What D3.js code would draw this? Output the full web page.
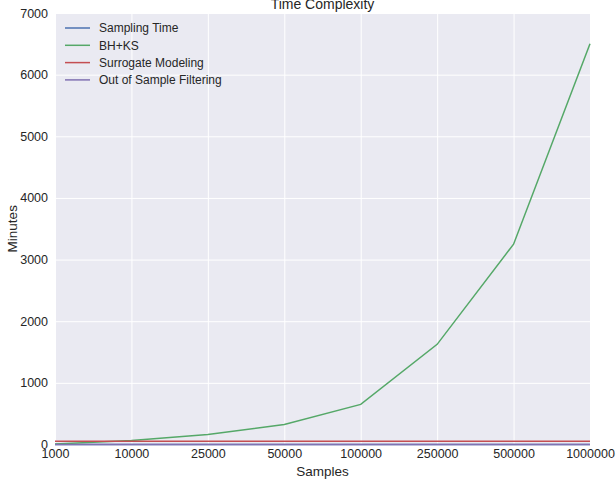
<!DOCTYPE html>
<html><head><meta charset="utf-8">
<script src="https://cdn.jsdelivr.net/npm/d3@7"></script>
<style>body{margin:0;background:#fff}svg{display:block;font-family:"Liberation Sans",Arial,sans-serif}</style>
</head><body>
<svg id="c" width="616" height="480"></svg>
<script>
const categories = ["1000","10000","25000","50000","100000","250000","500000","1000000"];
const samplingTime = [0,0,0,0,0,0,0,0];
const bhks = [6.5,65,162.5,325,650,1625,3250,6500];
const surrogateModeling = [52,52,52,52,52,52,52,52];
const outOfSampleFiltering = [2,2,2,2,2,2,2,2];
const yTicks = [0,1000,2000,3000,4000,5000,6000,7000];
const seriesNames = ["Sampling Time","BH+KS","Surrogate Modeling","Out of Sample Filtering"];
const colors = ["#4C72B0","#55A868","#C44E52","#8172B2"];
const series = [samplingTime,bhks,surrogateModeling,outOfSampleFiltering];

const svg = d3.select("#c");
const m = {l:55, r:590, t:13, b:444.5};
const x = d3.scalePoint().domain(categories).range([m.l, m.r]);
const y = d3.scaleLinear().domain([0,7000]).range([m.b, m.t]);

svg.append("rect").attr("x",m.l).attr("y",m.t).attr("width",m.r-m.l).attr("height",m.b-m.t).attr("fill","#EAEAF2");

const gx = svg.append("g").attr("transform",`translate(0,${m.b})`)
  .call(d3.axisBottom(x).tickSize(-(m.b-m.t)).tickPadding(5));
const gy = svg.append("g").attr("transform",`translate(${m.l},0)`)
  .call(d3.axisLeft(y).tickValues(yTicks).tickSize(-(m.r-m.l)).tickPadding(7).tickFormat(d3.format("d")));
[gx,gy].forEach(g=>{
  g.select(".domain").remove();
  g.selectAll(".tick line").attr("stroke","#fff").attr("stroke-width",1);
  g.selectAll(".tick text").attr("fill","#262626").attr("font-size",12.5);
});

const line = d3.line().x((d,i)=>x(categories[i])).y(d=>y(d));
series.forEach((s,i)=>{
  svg.append("path").datum(s).attr("d",line).attr("fill","none")
    .attr("stroke",colors[i]).attr("stroke-width",1.5);
});

// legend
const lg = svg.append("g");
seriesNames.forEach((n,i)=>{
  const yy = 28 + i*17.3;
  lg.append("line").attr("x1",65).attr("x2",90).attr("y1",yy).attr("y2",yy).attr("stroke",colors[i]).attr("stroke-width",1.5);
  lg.append("text").attr("x",99).attr("y",yy).attr("dy","0.35em").attr("font-size",12).attr("fill","#262626").text(n);
});

svg.append("text").attr("x",(m.l+m.r)/2).attr("y",8.5).attr("text-anchor","middle").attr("font-size",14).attr("fill","#262626").text("Time Complexity");
svg.append("text").attr("x",(m.l+m.r)/2).attr("y",476).attr("text-anchor","middle").attr("font-size",13.5).attr("fill","#262626").text("Samples");
svg.append("text").attr("transform",`translate(17,${(m.t+m.b)/2}) rotate(-90)`).attr("text-anchor","middle").attr("font-size",13.5).attr("fill","#262626").text("Minutes");
</script>
</body></html>
